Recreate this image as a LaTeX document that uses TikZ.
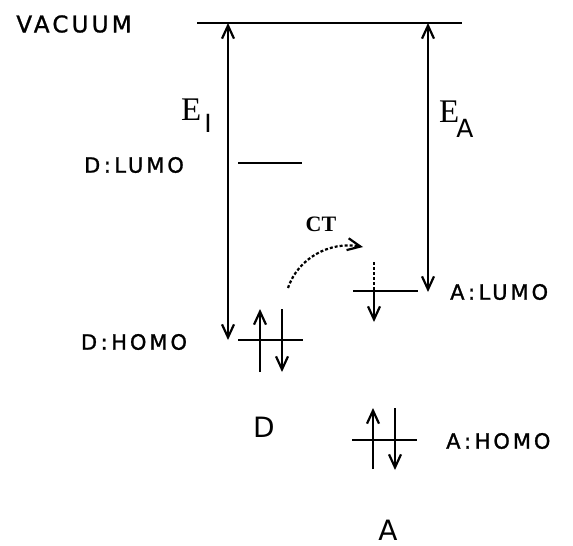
\documentclass[tikz,border=0pt]{standalone}
\usepackage{fontspec}
\setsansfont{DejaVu Sans}
\newfontfamily\lvlfont[LetterSpace=14,FakeBold=1.2]{DejaVu Sans}
\newfontfamily\efont{Liberation Serif}
\usetikzlibrary{arrows.meta,positioning}

\begin{document}
\begin{tikzpicture}[x=1pt, y=-1pt,
    barb/.tip={Straight Barb[length=13pt,width=12pt,line width=2.2pt]},
    level/.style={line width=2.6pt},
    spin/.style={line width=2.4pt, -barb},
    gap/.style={line width=2.4pt, barb-barb},
    lbl/.style={font=\lvlfont\fontsize{21}{24}\selectfont, inner sep=0pt},
    big/.style={font=\sffamily\fontsize{28}{30}\selectfont, inner sep=0pt},
    energy/.style={font=\efont\fontsize{33}{36}\selectfont, inner sep=0pt, anchor=base west}]
    \useasboundingbox (0,0) rectangle (573,546);

    % vacuum level
    \coordinate (vacL) at (197,23);
    \coordinate (vacR) at (462,23);
    \draw[level] (vacL) -- (vacR);
    \node[lbl, font=\lvlfont\fontsize{23}{26}\selectfont] (vacuum) at (74,24) {VACUUM};

    % donor levels
    \coordinate (dlumoL) at (238,163);
    \coordinate (dlumoR) at (302,163);
    \coordinate (dhomoL) at (238,340);
    \coordinate (dhomoR) at (303,340);
    \draw[level] (dlumoL) -- (dlumoR);
    \draw[level] (dhomoL) -- (dhomoR);
    \node[lbl] (dlumo) at (134,165) {D\,:\,LUMO};
    \node[lbl] (dhomo) at (134,342) {D\,:\,HOMO};

    % acceptor levels
    \coordinate (alumoL) at (353,291);
    \coordinate (alumoR) at (418,291);
    \coordinate (ahomoL) at (352,440);
    \coordinate (ahomoR) at (417,440);
    \draw[level] (alumoL) -- (alumoR);
    \draw[level] (ahomoL) -- (ahomoR);
    \node[lbl, anchor=west] (alumo) at (450,292) {A\,:\,LUMO};
    \node[lbl, anchor=west] (ahomo) at (446,441) {A\,:\,HOMO};

    % ionisation energy and electron affinity
    \coordinate (eiTop) at (228,23);
    \coordinate (eiBot) at (228,340);
    \coordinate (eaTop) at (428,23);
    \coordinate (eaBot) at (428,292);
    \draw[gap] (eiBot) -- (eiTop);
    \draw[gap] (eaBot) -- (eaTop);
    \node[energy] (ei) at (181,120) {E\kern3pt\raisebox{-12pt}{\sffamily\fontsize{25}{27}\selectfont I}};
    \node[energy] (ea) at (439,122) {E\kern-3pt\raisebox{-15pt}{\sffamily\fontsize{25}{27}\selectfont A}};

    % electrons
    \coordinate (d1a) at (260,372);
    \coordinate (d1b) at (260,309);
    \coordinate (d2a) at (282,309);
    \coordinate (d2b) at (282,372);
    \draw[spin] (d1a) -- (d1b);
    \draw[spin] (d2a) -- (d2b);
    \coordinate (a1a) at (373,469);
    \coordinate (a1b) at (373,408);
    \coordinate (a2a) at (395,408);
    \coordinate (a2b) at (395,470);
    \draw[spin] (a1a) -- (a1b);
    \draw[spin] (a2a) -- (a2b);
    \coordinate (ctTop) at (374,262);
    \coordinate (ctMid) at (374,291);
    \coordinate (ctBot) at (374,322);
    \draw[line width=2.4pt, densely dashed] (ctTop) -- (ctMid);
    \draw[spin] (ctMid) -- (ctBot);

    % charge transfer
    \coordinate (ctFrom) at (288,288);
    \coordinate (ctTo) at (363,247);
    \draw[line width=2.2pt, densely dashed, -barb] (ctFrom) .. controls (298,258) and (330,241) .. (ctTo);
    \node[font=\efont\bfseries\fontsize{22}{24}\selectfont, inner sep=0pt] (ct) at (321,224) {CT};

    % molecule labels
    \node[big] (don) at (264,427) {D};
    \node[big] (acc) at (388,530) {A};
\end{tikzpicture}
\end{document}
